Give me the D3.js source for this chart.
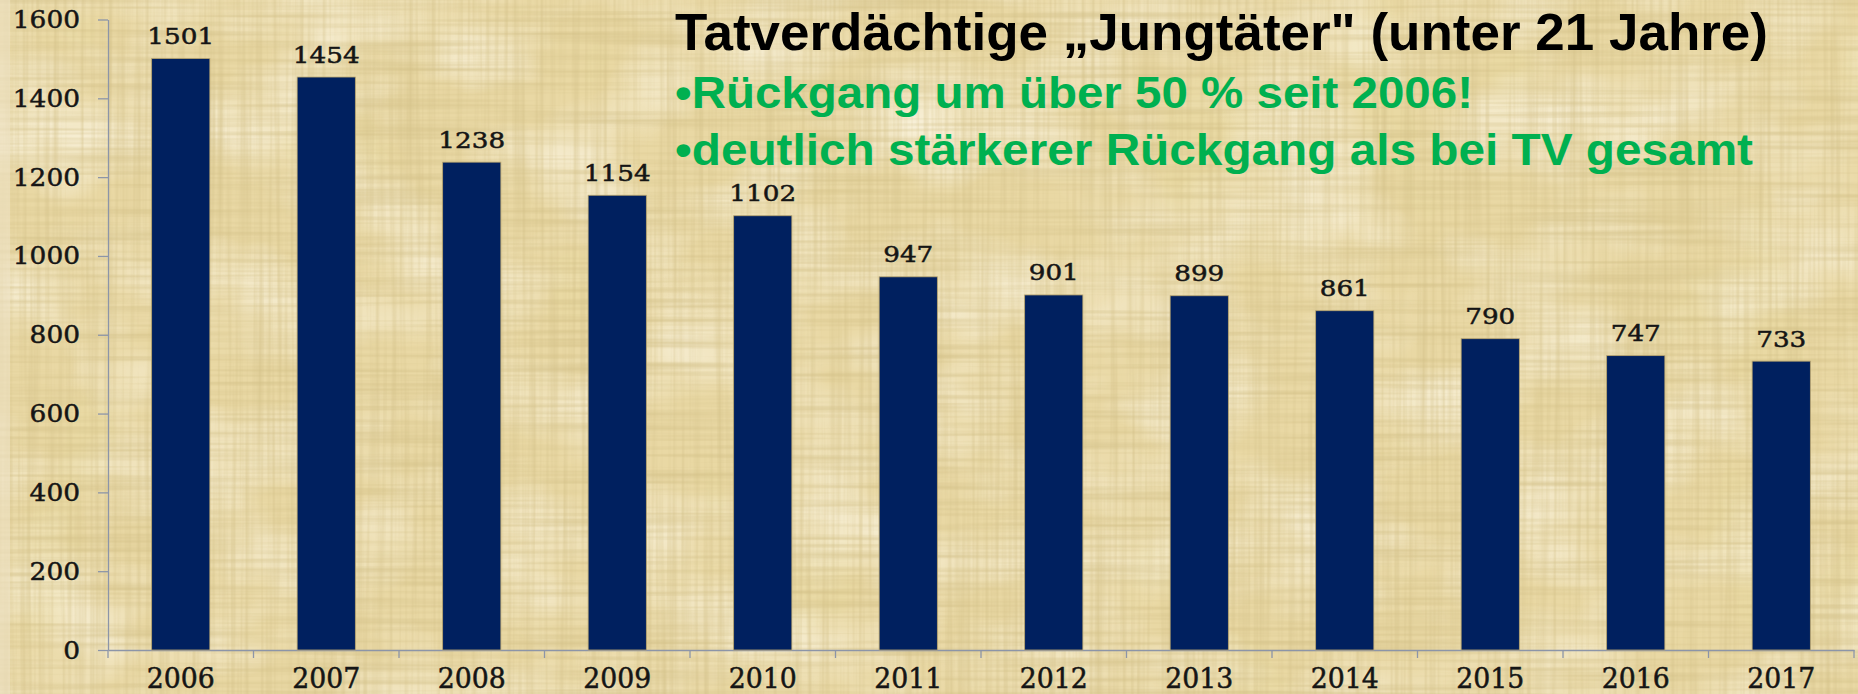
<!DOCTYPE html>
<html>
<head>
<meta charset="utf-8">
<script src="https://cdn.jsdelivr.net/npm/d3@7"></script>
<style>
  html, body { margin: 0; padding: 0; background: #e9d8a4; }
  svg { display: block; }
</style>
</head>
<body>
<svg id="chart" width="1858" height="694"></svg>
<script>
// ---- data ----
const years = ["2006","2007","2008","2009","2010","2011","2012","2013","2014","2015","2016","2017"];
const values = [1501, 1454, 1238, 1154, 1102, 947, 901, 899, 861, 790, 747, 733];
const yTicks = [0, 200, 400, 600, 800, 1000, 1200, 1400, 1600];
const titleText = "Tatverdächtige „Jungtäter\" (unter 21 Jahre)";
const bulletLines = ["•Rückgang um über 50 % seit 2006!", "•deutlich stärkerer Rückgang als bei TV gesamt"];

// ---- layout ----
const W = 1858, H = 694;
const svg = d3.select("#chart");
const defs = svg.append("defs");

// papyrus-like texture (subtle)
function noiseFilter(id, freq, seed, color, k, off, oct) {
  const f = defs.append("filter").attr("id", id)
    .attr("x", 0).attr("y", 0).attr("width", W).attr("height", H)
    .attr("filterUnits", "userSpaceOnUse");
  f.append("feTurbulence").attr("type", "fractalNoise")
    .attr("baseFrequency", freq).attr("numOctaves", oct || 3).attr("seed", seed).attr("result", "n");
  f.append("feColorMatrix").attr("in", "n").attr("type", "matrix")
    .attr("values", `0 0 0 0 ${color[0]}  0 0 0 0 ${color[1]}  0 0 0 0 ${color[2]}  ${k} 0 0 0 ${off}`);
}
noiseFilter("blotchD", "0.006 0.004", 7, [0.82, 0.70, 0.36], 1.0, -0.42, 3);
noiseFilter("blotch", "0.008 0.012", 2, [1, 0.97, 0.88], 1.2, -0.46, 3);
noiseFilter("fibH", "0.004 0.22", 4, [0.62, 0.50, 0.22], 1.1, -0.44, 2);
noiseFilter("fibV", "0.22 0.004", 9, [0.64, 0.52, 0.24], 1.1, -0.45, 2);

svg.append("rect").attr("width", W).attr("height", H).attr("fill", "#e9d8a4");
svg.append("rect").attr("width", W).attr("height", H).attr("filter", "url(#blotchD)");
svg.append("rect").attr("width", W).attr("height", H).attr("filter", "url(#blotch)");
svg.append("rect").attr("width", W).attr("height", H).attr("filter", "url(#fibH)");
svg.append("rect").attr("width", W).attr("height", H).attr("filter", "url(#fibV)");
svg.append("rect").attr("width", 10).attr("height", H).attr("fill", "#eee3c6").attr("opacity", 0.6);

// ---- scales ----
const x = d3.scaleBand().domain(years).range([108, 1854]).padding(0);
const y = d3.scaleLinear().domain([0, 1600]).range([650, 19.5]);
const barW = x.bandwidth() * 0.4;

const serif = "'DejaVu Serif', serif";
const axisColor = "#8c95a8";
const ink = "#151515";

// y axis
const yAxis = svg.append("g").attr("transform", "translate(108,0)")
  .call(d3.axisLeft(y).tickValues(yTicks).tickSize(10).tickSizeOuter(0).tickPadding(18).tickFormat(d3.format("d")));
yAxis.select(".domain").attr("stroke", axisColor).attr("stroke-width", 1.3);
yAxis.selectAll(".tick line").attr("stroke", axisColor).attr("stroke-width", 1.3);
yAxis.selectAll(".tick text")
  .attr("font-family", serif).attr("font-size", 25).attr("fill", ink)
  .attr("stroke", ink).attr("stroke-width", 0.5)
  .attr("textLength", d => String(d).length * 16.8).attr("lengthAdjust", "spacingAndGlyphs");

// x axis (labels at band centers)
const xAxis = svg.append("g").attr("transform", "translate(0,650)")
  .call(d3.axisBottom(x).tickSize(0).tickSizeOuter(0).tickPadding(18));
xAxis.select(".domain").attr("stroke", axisColor).attr("stroke-width", 1.3);
xAxis.selectAll(".tick text")
  .attr("y", 38).attr("dy", 0)
  .attr("font-family", serif).attr("font-size", 27).attr("fill", ink)
  .attr("stroke", ink).attr("stroke-width", 0.5)
  .attr("textLength", 68).attr("lengthAdjust", "spacingAndGlyphs");
// ticks at band boundaries
xAxis.selectAll(".bound").data(years).enter().append("line")
  .attr("class", "bound")
  .attr("x1", d => x(d)).attr("x2", d => x(d))
  .attr("y1", 0).attr("y2", 8)
  .attr("stroke", axisColor).attr("stroke-width", 1.3);
xAxis.append("line")
  .attr("x1", x.range()[1]).attr("x2", x.range()[1]).attr("y1", 0).attr("y2", 8)
  .attr("stroke", axisColor).attr("stroke-width", 1.3);

// bars
svg.append("g").selectAll("rect").data(values).enter().append("rect")
  .attr("x", (d, i) => x(years[i]) + (x.bandwidth() - barW) / 2)
  .attr("y", d => y(d))
  .attr("width", barW)
  .attr("height", d => y(0) - y(d))
  .attr("fill", "#00205f")
  .attr("stroke", "#b9a56e").attr("stroke-width", 0.8);

// value labels
svg.append("g").selectAll("text").data(values).enter().append("text")
  .attr("x", (d, i) => x(years[i]) + x.bandwidth() / 2)
  .attr("y", d => y(d) - 14.5)
  .attr("text-anchor", "middle")
  .attr("font-family", serif).attr("font-size", 23).attr("fill", ink)
  .attr("stroke", ink).attr("stroke-width", 0.5)
  .attr("textLength", d => String(d).length * 16.7).attr("lengthAdjust", "spacingAndGlyphs")
  .text(d => d);

// title block
const sans = "'Liberation Sans', Arial, sans-serif";
svg.append("text")
  .attr("x", 675).attr("y", 50)
  .attr("font-family", sans).attr("font-weight", "bold").attr("font-size", 52).attr("fill", "#000")
  .attr("textLength", 1093).attr("lengthAdjust", "spacingAndGlyphs")
  .text(titleText);

const bulletLayout = [{y: 108, w: 798}, {y: 165, w: 1078}];
svg.append("g").selectAll("text").data(bulletLines).enter().append("text")
  .attr("x", 675)
  .attr("y", (d, i) => bulletLayout[i].y)
  .attr("font-family", sans).attr("font-weight", "bold").attr("font-size", 44).attr("fill", "#00b050")
  .attr("textLength", (d, i) => bulletLayout[i].w).attr("lengthAdjust", "spacingAndGlyphs")
  .text(d => d);
</script>
</body>
</html>
